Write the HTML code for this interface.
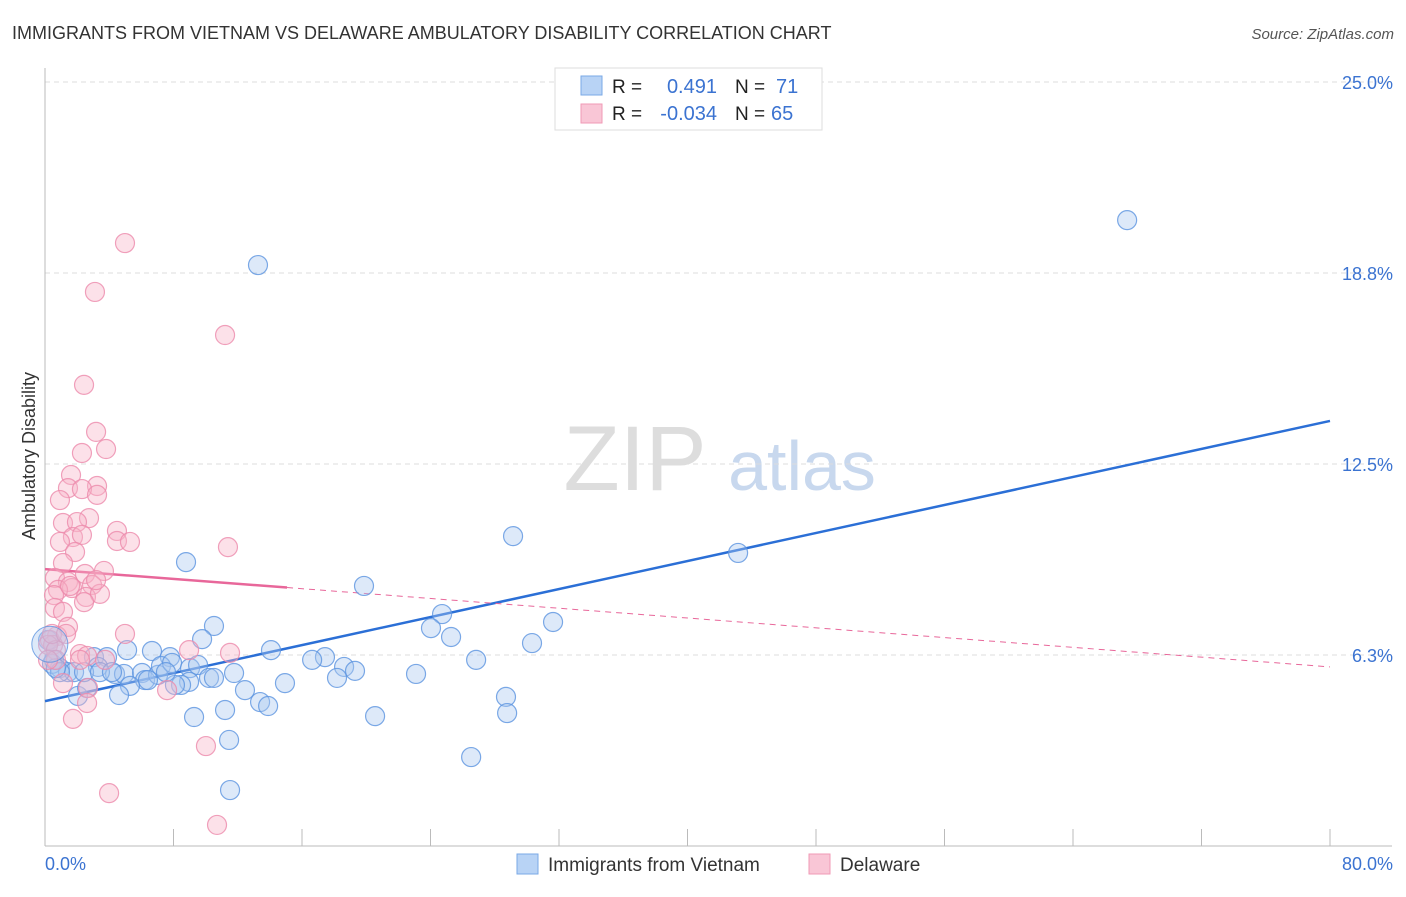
<!DOCTYPE html>
<html><head><meta charset="utf-8"><style>
body{margin:0;background:#fff;font-family:"Liberation Sans",sans-serif;}
svg text{font-family:"Liberation Sans",sans-serif;}
</style></head><body>
<svg id="chart" width="1406" height="892" viewBox="0 0 1406 892">
<text x="12" y="39" font-size="18" fill="#333">IMMIGRANTS FROM VIETNAM VS DELAWARE AMBULATORY DISABILITY CORRELATION CHART</text>
<text x="1394" y="39" font-size="15" fill="#555" font-style="italic" text-anchor="end">Source: ZipAtlas.com</text>
<text x="35" y="456" font-size="18" fill="#333" text-anchor="middle" transform="rotate(-90 35 456)">Ambulatory Disability</text>
<g><text x="635" y="490" font-size="92" fill="#ddd" font-family="Liberation Serif" text-anchor="middle">ZIP</text><text x="802" y="490" font-size="70" fill="#c8d8ee" text-anchor="middle">atlas</text></g>
<g id="grid"></g><g id="axes"></g><g id="lines"></g><g id="pts"></g>
<g>
<rect x="555" y="68" width="267" height="62" fill="#fff" stroke="#ddd"/>
<rect x="581" y="76" width="21" height="19" fill="#b8d3f5" stroke="#7aa8e6"/>
<rect x="581" y="104" width="21" height="19" fill="#f9c6d6" stroke="#f09ab6"/>
<text x="612" y="93" font-size="19" fill="#222">R = </text><text x="717" y="93" font-size="20" fill="#3b73d1" text-anchor="end">0.491</text>
<text x="735" y="93" font-size="19" fill="#222">N = </text><text x="776" y="93" font-size="20" fill="#3b73d1">71</text>
<text x="612" y="120" font-size="19" fill="#222">R = </text><text x="717" y="120" font-size="20" fill="#3b73d1" text-anchor="end">-0.034</text>
<text x="735" y="120" font-size="19" fill="#222">N = </text><text x="771" y="120" font-size="20" fill="#3b73d1">65</text>
</g>
<g>
<rect x="517" y="854" width="21" height="20" fill="#b8d3f5" stroke="#7aa8e6"/>
<text x="548" y="871" font-size="19" fill="#333">Immigrants from Vietnam</text>
<rect x="809" y="854" width="21" height="20" fill="#f9c6d6" stroke="#f09ab6"/>
<text x="840" y="871" font-size="19" fill="#333">Delaware</text>
</g>
</svg>
<script>
const xTicksLabels=["0.0%","80.0%"];
const yTickValues=[6.25,12.5,18.75,25];
const yTickLabels=["6.3%","12.5%","18.8%","25.0%"];
const blueX=[13.26,67.37,29.14,43.15,8.78,19.86,24.72,31.63,24.03,10.52,25.28,30.32,9.78,14.07,6.66,5.11,17.43,16.63,26.84,7.78,3.05,3.86,0.56,0.93,0.44,1.43,1.81,3.30,4.36,4.92,6.04,6.23,7.04,7.22,7.91,9.03,9.53,10.21,11.77,8.97,8.47,8.09,5.29,4.61,2.05,2.62,12.45,14.94,18.62,19.30,18.18,23.10,28.70,28.77,13.39,13.89,9.28,11.21,20.55,26.53,11.46,11.52,0.19,0.93,2.43,3.42,4.17,6.41,7.53,10.52,0.68];
const blueY=[19.01,20.48,10.14,9.59,9.29,8.51,7.59,7.33,7.13,7.20,6.84,6.64,6.77,6.41,6.38,6.41,6.18,6.09,6.09,6.18,6.18,6.18,6.09,5.82,5.96,5.69,5.69,5.86,5.63,5.63,5.66,5.43,5.60,5.89,5.99,5.82,5.92,5.50,5.66,5.37,5.27,5.27,5.24,4.94,4.91,5.17,5.10,5.33,5.86,5.73,5.50,5.63,4.88,4.35,4.71,4.58,4.22,4.45,4.25,2.91,3.47,1.83,6.74,5.69,5.69,5.69,5.69,5.43,5.69,5.50,5.82];
const pinkX=[4.98,3.11,11.21,2.43,3.18,3.80,2.30,1.62,1.43,3.24,2.30,3.24,0.93,2.74,1.12,1.99,4.48,4.48,5.29,1.74,0.93,2.30,11.39,1.87,1.12,3.67,2.49,0.62,1.43,2.93,1.68,0.81,0.56,2.55,3.42,2.43,0.62,1.12,1.43,4.98,0.75,0.31,0.50,0.19,0.68,2.18,2.62,8.97,11.52,2.18,3.74,1.12,2.68,7.60,2.62,1.74,10.02,3.99,10.71,0.68,0.19,0.44,1.31,1.56,3.18];
const pinkY=[19.73,18.13,16.72,15.09,13.55,12.99,12.86,12.14,11.71,11.78,11.68,11.49,11.32,10.73,10.57,10.60,10.31,9.98,9.95,10.11,9.95,10.18,9.78,9.62,9.26,9.00,8.90,8.77,8.64,8.54,8.44,8.38,8.21,8.15,8.25,7.98,7.79,7.66,7.17,6.94,6.87,6.74,6.58,6.58,6.41,6.28,6.22,6.41,6.32,6.09,6.09,5.33,5.17,5.10,4.68,4.16,3.27,1.73,0.69,6.09,6.09,6.94,6.94,8.51,8.70];
const blueTrend=[4.74,13.91]; // y at x=0 and x=80
const pinkTrend=[9.06,5.86];
const pinkSolidEnd=15.07;

const NS="http://www.w3.org/2000/svg";
const X0=45,X1=1330,Y0=846,PXY=30.56;
const sx=v=>X0+(v/80)*(X1-X0);
const sy=v=>Y0-v*PXY;
function mk(tag,attrs,parent){const e=document.createElementNS(NS,tag);for(const k in attrs)e.setAttribute(k,attrs[k]);document.getElementById(parent).appendChild(e);return e;}

yTickValues.forEach((v,i)=>{
  const g=mk('line',{x1:X0,x2:1392,y1:sy(v),y2:sy(v),stroke:'#ddd','stroke-dasharray':'5,4'},'grid');
  
  
  const t=mk('text',{x:1393,y:sy(v)+7,'font-size':18,fill:'#3b73d1','text-anchor':'end'},'grid');
  t.textContent=yTickLabels[i];
  
  
});
let a=mk('line',{x1:X0,x2:X0,y1:68,y2:846,stroke:'#bbb'},'axes');


a=mk('line',{x1:X0,x2:1392,y1:846,y2:846,stroke:'#bbb'},'axes');


for(let i=0;i<=10;i++){
  const t=mk('line',{x1:sx(i*8),x2:sx(i*8),y1:829,y2:846,stroke:'#bbb'},'axes');
  
  
}
let xl=mk('text',{x:45,y:870,'font-size':18,fill:'#3b73d1'},'axes');xl.textContent=xTicksLabels[0];


xl=mk('text',{x:1393,y:870,'font-size':18,fill:'#3b73d1','text-anchor':'end'},'axes');xl.textContent=xTicksLabels[1];



function drawPts(xs,ys,fill,stroke,name){
  xs.forEach((x,i)=>{
    const c=mk('circle',{cx:sx(x),cy:sy(ys[i]),r:9.5,fill:fill,'fill-opacity':0.4,stroke:stroke,'stroke-width':1.2,'stroke-opacity':0.8},'pts');
    
    
  });
}
drawPts(blueX,blueY,'#a9c8f0','#5b93e0','point-vietnam');
drawPts(pinkX,pinkY,'#f7b3c8','#ec8aab','point-delaware');
let big=mk('circle',{cx:sx(0.3),cy:sy(6.6),r:18,fill:'#a9c8f0','fill-opacity':0.4,stroke:'#5b93e0','stroke-opacity':0.8},'pts');



const py=x=>pinkTrend[0]+(pinkTrend[1]-pinkTrend[0])*x/80;
let l=mk('line',{x1:sx(0),y1:sy(blueTrend[0]),x2:sx(80),y2:sy(blueTrend[1]),stroke:'#2b6fd6','stroke-width':2.5},'lines');


l=mk('line',{x1:sx(0),y1:sy(py(0)),x2:sx(pinkSolidEnd),y2:sy(py(pinkSolidEnd)),stroke:'#e8679a','stroke-width':2.5},'lines');


l=mk('line',{x1:sx(pinkSolidEnd),y1:sy(py(pinkSolidEnd)),x2:sx(80),y2:sy(py(80)),stroke:'#e8679a','stroke-width':1,'stroke-dasharray':'6,5'},'lines');


</script>
</body></html>
